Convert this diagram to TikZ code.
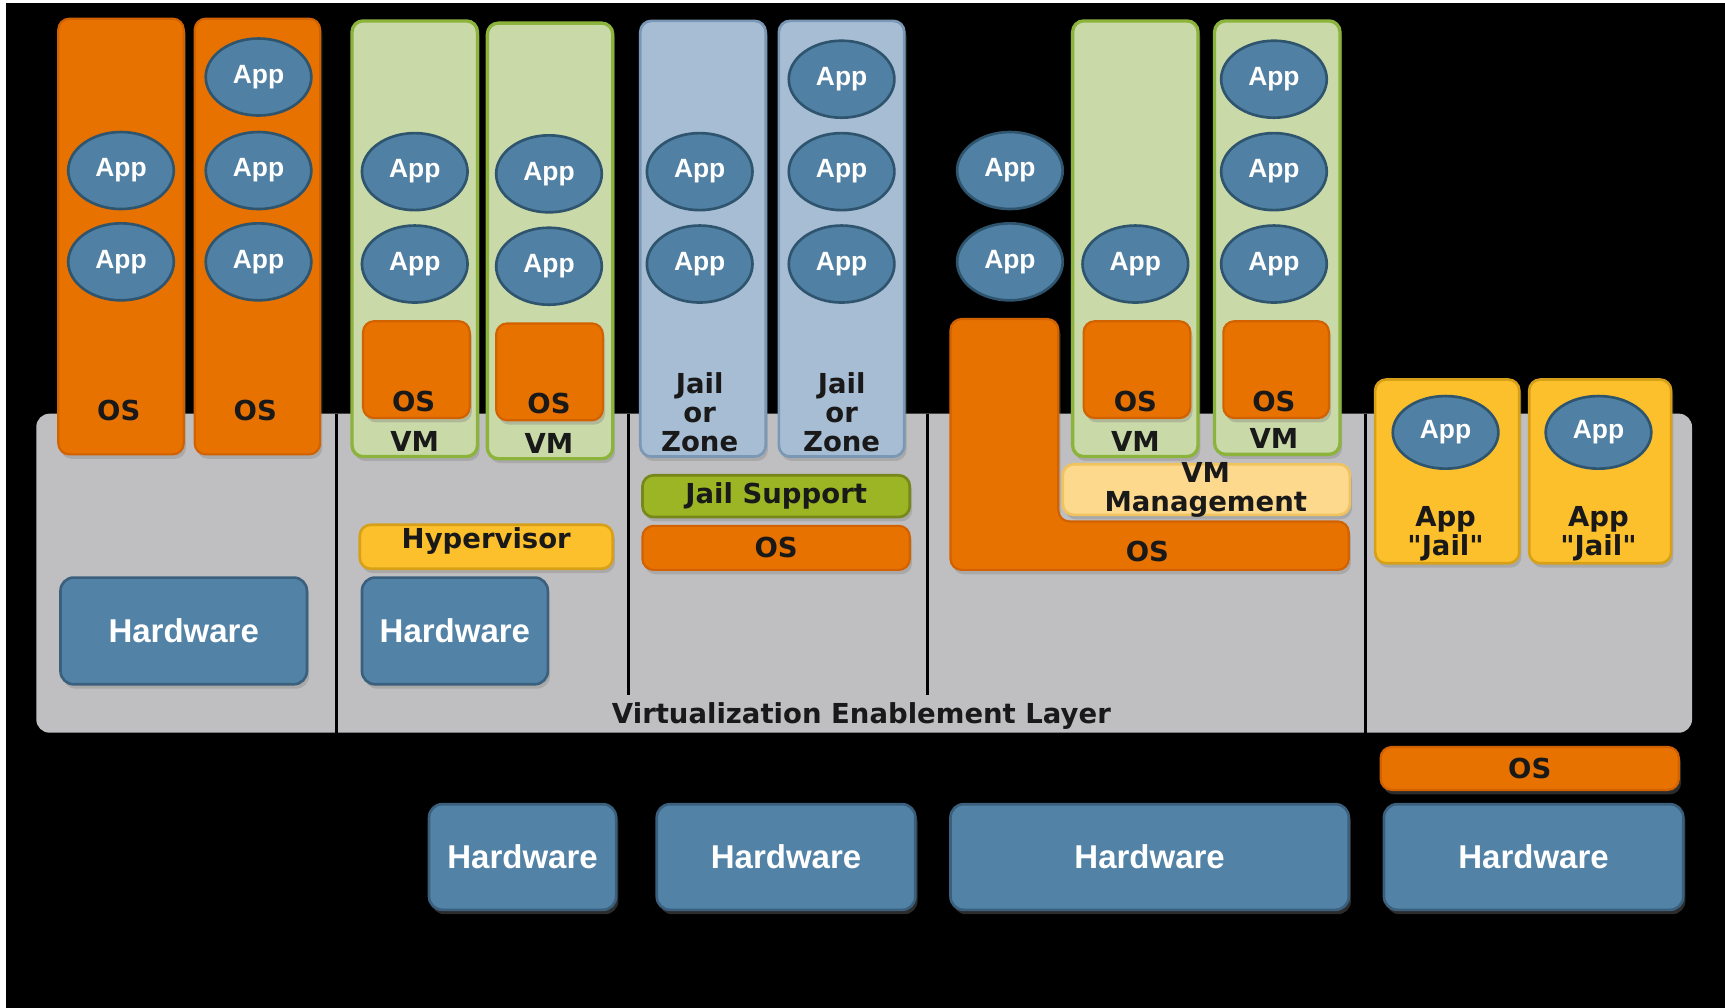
\documentclass[tikz,border=0pt]{standalone}
\usepackage{fontspec}
\setmainfont{DejaVu Sans}[Ligatures=TeXOff]
\newfontfamily\appfont{Liberation Sans}
\usetikzlibrary{shapes.geometric,fit,shadows}

\definecolor{osorange}{RGB}{232,114,0}
\definecolor{osedge}{RGB}{210,98,0}
\definecolor{appfill}{RGB}{80,128,163}
\definecolor{appedge}{RGB}{46,84,110}
\definecolor{hwfill}{RGB}{82,131,166}
\definecolor{hwedge}{RGB}{58,96,125}
\definecolor{layergray}{RGB}{191,191,194}
\definecolor{vmfill}{RGB}{201,217,168}
\definecolor{vmedge}{RGB}{140,180,60}
\definecolor{jailfill}{RGB}{167,189,212}
\definecolor{jailedge}{RGB}{122,152,182}
\definecolor{supportfill}{RGB}{155,181,36}
\definecolor{supportedge}{RGB}{120,135,25}
\definecolor{hypfill}{RGB}{252,192,44}
\definecolor{hypedge}{RGB}{215,160,25}
\definecolor{mgmtfill}{RGB}{252,217,140}
\definecolor{mgmtedge}{RGB}{240,195,95}
\definecolor{inktext}{RGB}{25,25,25}

\tikzset{
  shade/.style={drop shadow={shadow xshift=1pt, shadow yshift=-2pt, opacity=0.35}},
  panel/.style={inner sep=0pt, rounded corners=5pt, line width=1pt, shade},
  osbox/.style={panel, fill=osorange, draw=osedge},
  vmbox/.style={panel, fill=vmfill, draw=vmedge, line width=1.5pt},
  jailbox/.style={panel, fill=jailfill, draw=jailedge, line width=1.2pt},
  supportbox/.style={panel, fill=supportfill, draw=supportedge, line width=1.2pt},
  hypbox/.style={panel, fill=hypfill, draw=hypedge, line width=1.2pt},
  mgmtbox/.style={panel, fill=mgmtfill, draw=mgmtedge, line width=1.2pt},
  hwbox/.style={panel, fill=hwfill, draw=hwedge, line width=1.2pt, rounded corners=6pt},
  app/.style={ellipse, fill=appfill, draw=appedge, line width=1.2pt,
    minimum width=48pt, minimum height=35pt, inner sep=0pt, text=white,
    font=\appfont\bfseries\fontsize{12}{12}\selectfont},
  lbl/.style={text=inktext, font=\bfseries\fontsize{12.5}{13.25}\selectfont,
    align=center, inner sep=0pt},
  hwlbl/.style={text=white, font=\appfont\bfseries\fontsize{15}{15}\selectfont,
    inner sep=0pt},
  divider/.style={line width=1.5pt, black},
}

\begin{document}
\begin{tikzpicture}[x=0.5pt, y=-0.5pt]
% canvas
\fill[white] (0,0) rectangle (1568,916);
\fill[black] (5,3) rectangle (1568,916);
\useasboundingbox (0,0) rectangle (1568,916);

% shared enablement layer
\node[fit={(33,376) (1538,666)}, inner sep=0pt, fill=layergray, rounded corners=6pt] (layer) {};
\node[lbl] (layerlbl) at (783,651) {Virtualization Enablement Layer};
\draw[divider] (306,376) -- (306,666);
\draw[divider] (571,376) -- (571,632);
\draw[divider] (843,376) -- (843,632);
\draw[divider] (1241,376) -- (1241,666);

% --- separate machines ---
\node[osbox, fit={(53,17) (167,413)}] (osA) {};
\node[lbl] (osAt) at (108,373) {OS};
\node[osbox, fit={(177,17) (291,413)}] (osB) {};
\node[lbl] (osBt) at (232,373) {OS};
\node[app] (a1) at (110,155) {App};
\node[app] (a2) at (110,238) {App};
\node[app] (b1) at (235,70) {App};
\node[app] (b2) at (235,155) {App};
\node[app] (b3) at (235,238) {App};
\node[hwbox, fit={(55,525) (279,622)}] (hw1) {};
\node[hwlbl] (hw1t) at (hw1) {Hardware};

% --- hypervisor ---
\node[vmbox, fit={(320,19) (434,415)}] (vm1) {};
\node[osbox, fit={(330,292) (427,380)}] (vm1os) {};
\node[lbl] (vm1ost) at (376,365) {OS};
\node[lbl] (vm1t) at (377,401) {VM};
\node[app] (c1) at (377,156) {App};
\node[app] (c2) at (377,240) {App};
\node[vmbox, fit={(443,21) (557,417)}] (vm2) {};
\node[osbox, fit={(451,294) (548,382)}] (vm2os) {};
\node[lbl] (vm2ost) at (499,367) {OS};
\node[lbl] (vm2t) at (499,403) {VM};
\node[app] (d1) at (499,158) {App};
\node[app] (d2) at (499,242) {App};
\node[hypbox, fit={(327,477) (557,517)}] (hyp) {};
\node[lbl] (hypt) at (442,492) {Hypervisor};
\node[hwbox, fit={(329,525) (498,622)}] (hw2) {};
\node[hwlbl] (hw2t) at (hw2) {Hardware};

% --- jails / zones ---
\node[jailbox, fit={(582,19) (696,415)}] (jail1) {};
\node[lbl] (jail1t) at (636,375) {Jail\\or\\Zone};
\node[app] (e1) at (636,156) {App};
\node[app] (e2) at (636,240) {App};
\node[jailbox, fit={(708,19) (822,415)}] (jail2) {};
\node[lbl] (jail2t) at (765,375) {Jail\\or\\Zone};
\node[app] (f1) at (765,72) {App};
\node[app] (f2) at (765,156) {App};
\node[app] (f3) at (765,240) {App};
\node[supportbox, fit={(584,432) (827,470)}] (support) {};
\node[lbl] (supportt) at (support) {Jail Support};
\node[osbox, fit={(584,478) (827,518)}] (jos) {};
\node[lbl] (jost) at (jos) {OS};

% --- hosted VMs ---
\path[fill=osorange, draw=osedge, line width=1pt, rounded corners=5pt, shade]
  (864,400) -- (864,290) -- (962,290) -- (962,474) -- (1226,474)
  -- (1226,518) -- (864,518) -- cycle;
\node[lbl] (lost) at (1043,501) {OS};
\node[app] (g1) at (918,155) {App};
\node[app] (g2) at (918,238) {App};
\node[vmbox, fit={(975,19) (1089,415)}] (vm3) {};
\node[osbox, fit={(985,292) (1082,380)}] (vm3os) {};
\node[lbl] (vm3ost) at (1032,365) {OS};
\node[lbl] (vm3t) at (1032,401) {VM};
\node[app] (h1) at (1032,240) {App};
\node[vmbox, fit={(1104,19) (1218,413)}] (vm4) {};
\node[osbox, fit={(1112,292) (1208,380)}] (vm4os) {};
\node[lbl] (vm4ost) at (1158,365) {OS};
\node[lbl] (vm4t) at (1158,399) {VM};
\node[app] (k1) at (1158,72) {App};
\node[app] (k2) at (1158,156) {App};
\node[app] (k3) at (1158,240) {App};
\node[mgmtbox, fit={(966,422) (1227,468)}] (mgmt) {};
\node[lbl] (mgmtt) at (1096,445) {VM\\Management};

% --- application jails ---
\node[hypbox, fit={(1250,345) (1381,512)}] (aj1) {};
\node[app, minimum height=33pt] (m1) at (1314,393) {App};
\node[lbl] (aj1t) at (1314,485) {App\\"Jail"};
\node[hypbox, fit={(1390,345) (1519,512)}] (aj2) {};
\node[app, minimum height=33pt] (m2) at (1453,393) {App};
\node[lbl] (aj2t) at (1453,485) {App\\"Jail"};
\node[osbox, fit={(1255,679) (1526,718)}] (os5) {};
\node[lbl] (os5t) at (os5) {OS};

% --- physical hardware ---
\node[hwbox, fit={(390,731) (560,827)}] (hwb2) {};
\node[hwlbl] (hwb2t) at (hwb2) {Hardware};
\node[hwbox, fit={(597,731) (832,827)}] (hwb3) {};
\node[hwlbl] (hwb3t) at (hwb3) {Hardware};
\node[hwbox, fit={(864,731) (1226,827)}] (hwb4) {};
\node[hwlbl] (hwb4t) at (hwb4) {Hardware};
\node[hwbox, fit={(1258,731) (1530,827)}] (hwb5) {};
\node[hwlbl] (hwb5t) at (hwb5) {Hardware};
\end{tikzpicture}
\end{document}
